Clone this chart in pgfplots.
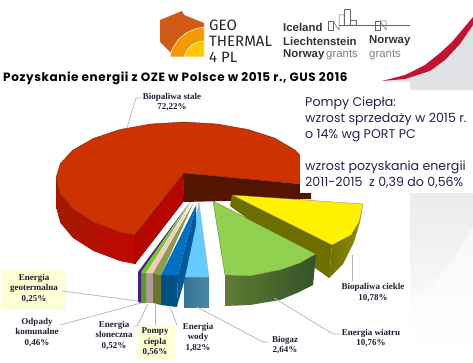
\documentclass[border=0pt]{standalone}
\usepackage{pgfplots}
\pgfplotsset{compat=1.18}
\usepackage{fontspec}
\setmainfont{Liberation Serif}
\newfontfamily\gothic{Poppins}
\newfontfamily\gothicwide[LetterSpace=5]{Poppins}
\newfontfamily\logo{Fira Sans}
\newfontfamily\ssans{Liberation Sans}
\definecolor{leader}{HTML}{B4B4B4}
\definecolor{txt}{HTML}{2A1E55}
\definecolor{lab}{HTML}{1E1E32}
\newcommand{\lbl}[4][lab]{\node[font=\fontsize{9}{10.6}\selectfont\bfseries,text=#1,align=center,inner sep=0pt,anchor=center] at (axis cs:#2,#3) {#4};}
\begin{document}
\begin{tikzpicture}
\begin{axis}[
  scale only axis, width=473pt, height=363pt,
  xmin=0, xmax=473, ymin=0, ymax=363, y dir=reverse,
  axis lines=none, clip=true,
  every axis plot/.append style={no markers, forget plot, line join=round},
]
% background panels
\addplot[draw=none, top color=white, bottom color=white] coordinates {(0,0)(473,0)(473,363)(0,363)} -- cycle;
\addplot[draw=none, fill={rgb,255:red,225;green,226;blue,230}] coordinates {(382,82)(430,72)(460,44)(473,25)(473,90)(410,90)(410,82)} -- cycle;
\addplot[draw=none, top color=black!8, bottom color=white] coordinates {(410,190)(473,190)(473,352)(410,352)} -- cycle;
\addplot[draw=none, top color=black!3, bottom color=white] coordinates {(410,300)(432,285)(452,262)(473,226)(473,352)(410,352)} -- cycle;
\addplot[draw=none, fill={rgb,255:red,192;green,20;blue,50}] coordinates {(382,81)(405,75)(425,65)(440,53)(452,42)(473,17)(473,25)(460,44)(445,60)(430,71)(405,79)} -- cycle;

% pie: Biopaliwa stale 72,22
\addplot[draw=none, left color=red!55!black!80!orange, right color=red!75!black!95!orange] coordinates {(56,178)(60.4,194)(73,209)(93.5,222)(120,232)(135,235)(135,264)(120,261)(93.5,251)(73,238)(60.4,223)(56,207)} -- cycle;
\addplot[draw=black!40!red!60!black, line width=0.3pt, fill=red!70!black!95!orange] coordinates {(184,173)(135,235)(135,264)(183,202)} -- cycle;
\addplot[draw=none, fill={rgb,255:red,84;green,21;blue,0}] coordinates {(184,173)(311,185)(311,199)(183,202)} -- cycle;
\addplot[draw={rgb,255:red,120;green,40;blue,10}, line width=0.4pt, fill={rgb,255:red,204;green,51;blue,0}] coordinates {(184,173)(135,235)(120,232)(93.5,222)(73,209)(60.4,194)(56,178)(60.4,163.5)(73,150)(93.5,138.4)(120,129.5)(151,124)(184,122)(217,124)(248,129.5)(274.5,138)(295,150)(307.6,163.5)(312,176)(311,185)} -- cycle;

% Biopaliwa ciekle 10,78
\addplot[draw=none, fill={rgb,255:red,110;green,110;blue,0}] coordinates {(232,195)(332,245)(329,278)(315,268)(230,206)} -- cycle;
\addplot[draw=none, left color={rgb,255:red,112;green,112;blue,0}, right color={rgb,255:red,150;green,140;blue,20}] coordinates {(363,204)(359,222)(351,235)(332,245)(329,278)(343,264)(354,242)(360,222)} -- cycle;
\addplot[draw=black!60!yellow!60!gray, line width=0.3pt, fill=yellow] coordinates {(232,195)(363,204)(359,222)(351,235)(332,245)} -- cycle;

% Energia wiatru 10,76
\addplot[draw=none, left color={rgb,255:red,95;green,125;blue,50}, right color={rgb,255:red,52;green,82;blue,40}] coordinates {(225,275)(250,276)(280,270)(300,263)(316,254)(313,285)(297,293)(280,300)(250,305)(225,306)} -- cycle;
\addplot[draw={rgb,255:red,80;green,110;blue,40}, line width=0.3pt, fill={rgb,255:red,146;green,208;blue,80}] coordinates {(213,201)(316,254)(300,263)(280,270)(250,276)(225,275)} -- cycle;

% Biogaz 2,64
\addplot[draw=none, left color={rgb,255:red,55;green,115;blue,150}, right color={rgb,255:red,75;green,135;blue,165}] coordinates {(184,277)(209,277)(209,307)(184,307)} -- cycle;
\addplot[draw=gray!60, line width=0.3pt, fill={rgb,255:red,102;green,204;blue,255}] coordinates {(199,202)(209,277)(184,277)} -- cycle;

% Energia wody 1,82
\addplot[draw=none, fill={rgb,255:red,0;green,90;blue,158}] coordinates {(196,205)(178,275)(177,306)(184,282)(196,225)} -- cycle;
\addplot[draw=none, fill={rgb,255:red,0;green,80;blue,130}] coordinates {(161,275)(178,275)(177,307)(161,305)} -- cycle;
\addplot[draw=none, fill={rgb,255:red,0;green,112;blue,192}] coordinates {(196,205)(178,275)(161,275)} -- cycle;

% Pompy ciepla 0,56
\addplot[draw=none, fill={rgb,255:red,106;green,117;blue,48}] coordinates {(153,273)(161,275)(161,305)(153,303)} -- cycle;
\addplot[draw=none, fill={rgb,255:red,143;green,156;blue,80}] coordinates {(194,202)(161,275)(153,273)} -- cycle;
% Energia sloneczna 0,52
\addplot[draw=none, fill={rgb,255:red,180;green,154;blue,154}] coordinates {(146,273)(153,273)(153,303)(146,303)} -- cycle;
\addplot[draw=none, fill={rgb,255:red,245;green,200;blue,192}] coordinates {(192.5,202)(153,273)(146,273)} -- cycle;
% Odpady komunalne 0,46
\addplot[draw=none, fill={rgb,255:red,90;green,154;blue,48}] coordinates {(141,272)(146,273)(146,303)(141,303)} -- cycle;
\addplot[draw=none, fill={rgb,255:red,108;green,204;blue,32}] coordinates {(191,202)(146,273)(141,272)} -- cycle;
% Energia geotermalna 0,25
\addplot[draw=none, fill={rgb,255:red,75;green,30;blue,120}] coordinates {(138,272)(141,272)(141,303)(138,302)} -- cycle;
\addplot[draw=none, fill={rgb,255:red,75;green,31;blue,138}] coordinates {(190,202)(141,272)(138,272)} -- cycle;

% white text box
\addplot[draw=none, fill=white] coordinates {(300,82)(410,82)(410,90)(473,90)(473,193)(300,193)} -- cycle;

% yellow label boxes
\addplot[draw=none, fill={rgb,255:red,255;green,255;blue,214}] coordinates {(2,269)(66,269)(66,310)(2,310)} -- cycle;
\addplot[draw=none, fill={rgb,255:red,255;green,255;blue,214}] coordinates {(137,325)(176,325)(176,359)(137,359)} -- cycle;

% leaders
\addplot[draw=leader, line width=0.7pt] coordinates {(127,128)(136,98)(141,98)};
\addplot[draw=leader, line width=0.7pt] coordinates {(352,255)(352,281)};
\addplot[draw=leader, line width=0.7pt] coordinates {(274,298)(333,334)(340,334)};
\addplot[draw=leader, line width=0.7pt] coordinates {(197,307)(263,342)(268,342)};
\addplot[draw=leader, line width=0.7pt] coordinates {(170,307)(177,325)};
\addplot[draw=leader, line width=0.7pt] coordinates {(155,303)(155,325)};
\addplot[draw=leader, line width=0.7pt] coordinates {(148,304)(137,326)(133,326)};
\addplot[draw=leader, line width=0.7pt] coordinates {(141,303)(60,325)};
\addplot[draw=leader, line width=0.7pt] coordinates {(62,291)(138,301)};

% labels
\lbl{172}{102}{Biopaliwa stale\\72,22\%}
\lbl{373}{292.5}{Biopaliwa ciekle\\10,78\%}
\lbl{371}{338}{Energia wiatru\\10,76\%}
\lbl{285}{345}{Biogaz\\2,64\%}
\lbl{198}{337.5}{Energia\\wody\\1,82\%}
\lbl{155}{342}{Pompy\\ciepla\\0,56\%}
\lbl{114}{335.5}{Energia\\sloneczna\\0,52\%}
\lbl{37}{332.5}{Odpady\\komunalne\\0,46\%}
\lbl{34}{288.5}{Energia\\geotermalna\\0,25\%}

% title and note
\node[anchor=west, inner sep=0pt, font=\gothicwide\bfseries\fontsize{12}{14}\selectfont] at (axis cs:3,78) {Pozyskanie energii z OZE w Polsce w 2015 r., GUS 2016};
\node[anchor=base west, inner sep=0pt, align=left, text=txt, font=\gothic\fontsize{12.6}{16}\selectfont] at (axis cs:305,187) {Pompy Ciepła:\\wzrost sprzedaży w 2015 r.\\o 14\% wg PORT PC\\[16pt]wzrost pozyskania energii\\2011-2015~ z 0,39 do 0,56\%};

% GEOTHERMAL logo
\addplot[draw=none, fill={rgb,255:red,208;green,90;blue,24}] coordinates {(160,20)(182,11)(184,15)(204,23)(204,57)(175,57)(160,42)} -- cycle;
\addplot[draw=white, line width=0.5pt, fill={rgb,255:red,243;green,154;blue,0}] coordinates {(170,57)(172,49)(178,40)(186,33)(195,29)(204,27)(204,57)} -- cycle;
\addplot[draw=white, line width=0.5pt, fill={rgb,255:red,255;green,200;blue,0}] coordinates {(184,57)(187,50)(192,45)(198,42)(204,41)(204,57)} -- cycle;
\node[anchor=west, inner sep=0pt, text=black!85, font=\logo\fontsize{15}{16}\selectfont] at (axis cs:209,25) {GEO};
\node[anchor=west, inner sep=0pt, text=black!85, font=\logo\fontsize{15}{16}\selectfont] at (axis cs:209,41) {THERMAL};
\node[anchor=west, inner sep=0pt, text=black!85, font=\logo\fontsize{15}{16}\selectfont] at (axis cs:209,57) {4 PL};

% grants logo
\node[anchor=west, inner sep=0pt, text=black!80, font=\ssans\bfseries\fontsize{11.4}{12}\selectfont] at (axis cs:283,27.5) {Iceland};
\node[anchor=west, inner sep=0pt, text=black!80, font=\ssans\bfseries\fontsize{11.4}{12}\selectfont] at (axis cs:283,41) {Liechtenstein};
\node[anchor=west, inner sep=0pt, text=black!80, font=\ssans\bfseries\fontsize{11.4}{12}\selectfont] at (axis cs:283,55) {Norway};
\node[anchor=west, inner sep=0pt, text=black!50, font=\ssans\fontsize{11.4}{12}\selectfont] at (axis cs:326,55) {grants};
\node[anchor=west, inner sep=0pt, text=black!80, font=\ssans\bfseries\fontsize{11.4}{12}\selectfont] at (axis cs:369,41) {Norway};
\node[anchor=west, inner sep=0pt, text=black!50, font=\ssans\fontsize{11.4}{12}\selectfont] at (axis cs:369,55) {grants};
\addplot[draw=black!60, line width=0.5pt] coordinates {(328,30)(328,21)(333,21)(333,30)(328,30)};
\addplot[draw=black!60, line width=0.5pt] coordinates {(333,21)(339,30)(339,15)(344,15)(344,25)};
\addplot[draw=black!60, line width=0.5pt] coordinates {(344,25)(344,9)(350,9)(350,25)(356,25)(356,20)(350,20)};
\addplot[draw=black!60, line width=0.5pt] coordinates {(339,25)(370,25)};
\addplot[draw=black!60, line width=0.5pt] coordinates {(375,30)(375,21)(380,21)(380,30)(375,30)};
\addplot[draw=black!60, line width=0.5pt] coordinates {(380,21)(386,30)(386,21)(380,21)};
\addplot[draw=black!60, line width=0.5pt] coordinates {(370,25)(410,25)};
\end{axis}
\end{tikzpicture}
\end{document}
